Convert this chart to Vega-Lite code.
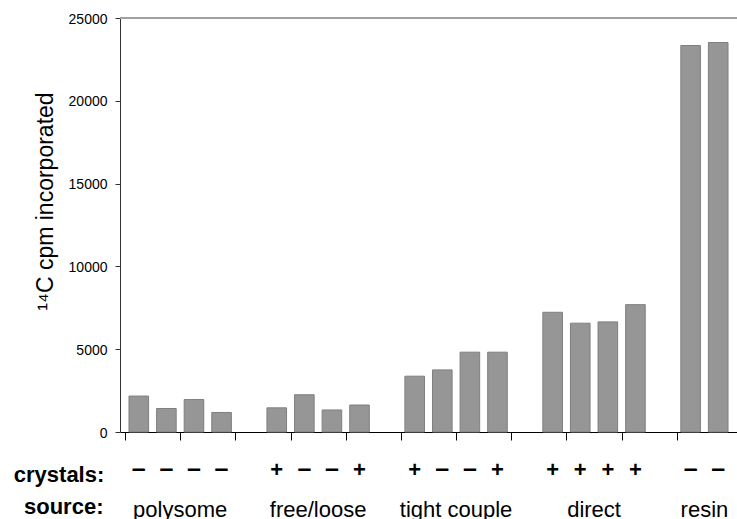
{
  "$schema": "https://vega.github.io/schema/vega-lite/v6.json",
  "width": 617,
  "height": 414,
  "autosize": "none",
  "padding": {"left": 120, "top": 18, "right": 0, "bottom": 87},
  "background": "white",
  "config": {"font": "Liberation Sans", "view": {"stroke": null}},
  "datasets": {
    "bars": [
      {"index": 1, "source": "polysome", "crystals": "–", "cpm": 2170},
      {"index": 2, "source": "polysome", "crystals": "–", "cpm": 1420},
      {"index": 3, "source": "polysome", "crystals": "–", "cpm": 1960},
      {"index": 4, "source": "polysome", "crystals": "–", "cpm": 1180},
      {"index": 6, "source": "free/loose", "crystals": "+", "cpm": 1460},
      {"index": 7, "source": "free/loose", "crystals": "–", "cpm": 2250},
      {"index": 8, "source": "free/loose", "crystals": "–", "cpm": 1330},
      {"index": 9, "source": "free/loose", "crystals": "+", "cpm": 1630},
      {"index": 11, "source": "tight couple", "crystals": "+", "cpm": 3370},
      {"index": 12, "source": "tight couple", "crystals": "–", "cpm": 3750},
      {"index": 13, "source": "tight couple", "crystals": "–", "cpm": 4820},
      {"index": 14, "source": "tight couple", "crystals": "+", "cpm": 4820},
      {"index": 16, "source": "direct", "crystals": "+", "cpm": 7230},
      {"index": 17, "source": "direct", "crystals": "+", "cpm": 6570},
      {"index": 18, "source": "direct", "crystals": "+", "cpm": 6650},
      {"index": 19, "source": "direct", "crystals": "+", "cpm": 7690},
      {"index": 21, "source": "resin", "crystals": "–", "cpm": 23340},
      {"index": 22, "source": "resin", "crystals": "–", "cpm": 23520}
    ]
  },
  "data": {"name": "bars"},
  "layer": [
    {
      "mark": {"type": "rule", "color": "#a0a0a0", "strokeWidth": 1},
      "encoding": {"y": {"datum": 25000, "type": "quantitative"}}
    },
    {
      "mark": {"type": "bar", "width": 19.6, "fill": "#969696", "stroke": "#7f7f7f", "strokeWidth": 1},
      "encoding": {
        "x": {
          "field": "index",
          "type": "quantitative",
          "scale": {"domain": [0.5, 22.5], "nice": false, "zero": false},
          "axis": {
            "title": null,
            "values": [0.5, 1.5, 2.5, 3.5, 4.5, 5.5, 6.5, 7.5, 8.5, 9.5, 10.5, 11.5, 12.5, 13.5, 14.5, 15.5, 16.5, 17.5, 18.5, 19.5, 20.5, 21.5],
            "labels": false,
            "grid": false,
            "domainColor": "#000000",
            "tickColor": "#000000",
            "tickSize": 8,
            "domainWidth": 1,
            "tickWidth": 1
          }
        },
        "y": {
          "field": "cpm",
          "type": "quantitative",
          "scale": {"domain": [0, 25000], "nice": false},
          "axis": {
            "title": "¹⁴C cpm incorporated",
            "values": [0, 5000, 10000, 15000, 20000, 25000],
            "format": "d",
            "grid": false,
            "tickSize": 5,
            "labelPadding": 8,
            "labelFontSize": 14,
            "labelColor": "#000000",
            "labelOffset": 1,
            "domainColor": "#333333",
            "tickColor": "#333333",
            "titleFontSize": 23,
            "titleFontWeight": "normal",
            "titleColor": "#000000",
            "titlePadding": 11,
            "titleY": 183
          }
        }
      }
    },
    {
      "mark": {"type": "text", "fontWeight": "bold", "baseline": "alphabetic", "align": "center", "color": "#000000"},
      "encoding": {
        "x": {"field": "index", "type": "quantitative"},
        "y": {"datum": -2717, "type": "quantitative"},
        "text": {"field": "crystals"},
        "size": {"field": "crystals", "type": "nominal", "scale": {"domain": ["–", "+"], "range": [25, 22]}, "legend": null}
      }
    },
    {
      "mark": {"type": "text", "fontSize": 22, "baseline": "alphabetic", "align": "center", "color": "#000000"},
      "encoding": {
        "x": {"aggregate": "mean", "field": "index", "type": "quantitative"},
        "y": {"datum": -5133, "type": "quantitative"},
        "text": {"field": "source"}
      }
    },
    {
      "data": {"values": [{"label": "crystals:"}]},
      "mark": {"type": "text", "fontSize": 22, "fontWeight": "bold", "baseline": "alphabetic", "align": "right", "color": "#000000"},
      "encoding": {
        "x": {"datum": -0.25, "type": "quantitative"},
        "y": {"datum": -3001, "type": "quantitative"},
        "text": {"field": "label"}
      }
    },
    {
      "data": {"values": [{"label": "source:"}]},
      "mark": {"type": "text", "fontSize": 22, "fontWeight": "bold", "baseline": "alphabetic", "align": "right", "color": "#000000"},
      "encoding": {
        "x": {"datum": -0.28, "type": "quantitative"},
        "y": {"datum": -4952, "type": "quantitative"},
        "text": {"field": "label"}
      }
    }
  ]
}
